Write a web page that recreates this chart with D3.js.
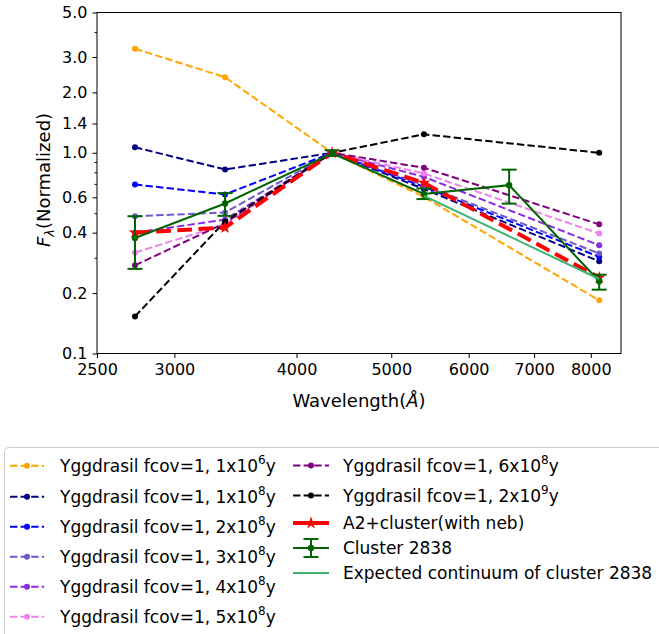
<!DOCTYPE html>
<html><head><meta charset="utf-8">
<script src="https://cdn.jsdelivr.net/npm/d3@7"></script>
<style>body{margin:0;background:#fff;} svg{display:block;font-family:"DejaVu Sans",sans-serif;}</style>
</head><body>
<svg id="c" width="659" height="634"></svg>
<script>
// ---- data ----
const modelWavelengths = [2734, 3380, 4350, 5400, 8160];
const yg1e6 = [3.30, 2.38, 1.0, 0.603, 0.184];
const yg1e8 = [1.065, 0.826, 1.0, 0.66, 0.288];
const yg2e8 = [0.695, 0.62, 1.0, 0.677, 0.303];
const yg3e8 = [0.483, 0.504, 1.0, 0.69, 0.315];
const yg4e8 = [0.40, 0.464, 1.0, 0.759, 0.346];
const yg5e8 = [0.318, 0.44, 1.0, 0.789, 0.396];
const yg6e8 = [0.275, 0.447, 1.0, 0.842, 0.44];
const yg2e9 = [0.153, 0.455, 1.0, 1.236, 1.0];
const a2cluster = [0.40, 0.424, 1.0, 0.708, 0.239];

const clusterWavelengths = [2734, 3380, 4350, 5400, 6600, 8160];
const clusterFlux = [0.376, 0.559, 0.995, 0.624, 0.69, 0.229];
const clusterLow = [0.264, 0.485, 0.965, 0.588, 0.558, 0.208];
const clusterHigh = [0.483, 0.63, 1.03, 0.664, 0.824, 0.247];

const expectedWavelengths = [5400, 8160];
const expectedFlux = [0.61, 0.235];

const xTicks = [2500, 3000, 4000, 5000, 6000, 7000, 8000];
const yTicks = [0.1, 0.2, 0.4, 0.6, 1.0, 1.4, 2.0, 3.0, 5.0];
const yMinorTicks = [0.3, 0.5, 0.7, 0.8, 0.9, 4.0];

const modelSeries = [
  {vals: yg1e6, color: "#FFA500", mant: "1", exp: "6"},
  {vals: yg1e8, color: "#000080", mant: "1", exp: "8"},
  {vals: yg2e8, color: "#0000FF", mant: "2", exp: "8"},
  {vals: yg3e8, color: "#6A5ACD", mant: "3", exp: "8"},
  {vals: yg4e8, color: "#8A2BE2", mant: "4", exp: "8"},
  {vals: yg5e8, color: "#EE82EE", mant: "5", exp: "8"},
  {vals: yg6e8, color: "#800080", mant: "6", exp: "8"},
  {vals: yg2e9, color: "#000000", mant: "2", exp: "9"}
];

// ---- layout ----
const L = 97, R = 621, T = 12.5, B = 353.5;
const svg = d3.select("#c");
const x = d3.scaleLog().domain([2500, 8590]).range([L, R]);
const y = d3.scaleLog().domain([0.1, 5.0]).range([B, T]);

const line = d3.line().x(d => x(d[0])).y(d => y(d[1]));

// axes
const xAxis = d3.axisBottom(x).tickValues(xTicks).tickFormat(d3.format("d")).tickSize(4.5).tickPadding(6);
const gx = svg.append("g").attr("transform", `translate(0,${B})`).call(xAxis);
const yAxis = d3.axisLeft(y).tickValues(yTicks).tickFormat(d3.format(".1f")).tickSize(4.5).tickPadding(5);
const gy = svg.append("g").attr("transform", `translate(${L},0)`).call(yAxis);
const gym = svg.append("g").attr("transform", `translate(${L},0)`)
  .call(d3.axisLeft(y).tickValues(yMinorTicks).tickFormat("").tickSize(2.5));
gym.select(".domain").remove();
[gx, gy, gym].forEach(g => {
  g.selectAll("text").attr("font-size", 16).attr("font-family", "DejaVu Sans").attr("fill", "#000");
  g.selectAll("line").attr("stroke", "#000").attr("stroke-width", 1);
  g.select(".domain").remove();
});

// plot frame
svg.append("rect").attr("x", L).attr("y", T).attr("width", R - L).attr("height", B - T)
  .attr("fill", "none").attr("stroke", "#000").attr("stroke-width", 1);

const plot = svg.append("g");

// model lines
modelSeries.forEach(s => {
  const pts = modelWavelengths.map((w, i) => [w, s.vals[i]]);
  plot.append("path").attr("d", line(pts)).attr("fill", "none")
    .attr("stroke", s.color).attr("stroke-width", 2).attr("stroke-dasharray", "7.4,3.2");
  plot.selectAll(null).data(pts).enter().append("circle")
    .attr("cx", d => x(d[0])).attr("cy", d => y(d[1])).attr("r", 3).attr("fill", s.color);
});

// A2 + cluster
const redPts = modelWavelengths.map((w, i) => [w, a2cluster[i]]);
plot.append("path").attr("d", line(redPts)).attr("fill", "none")
  .attr("stroke", "#FF0000").attr("stroke-width", 4).attr("stroke-dasharray", "14.8,6.4");
const star = d3.symbol().type(d3.symbolStar).size(50);
plot.selectAll(null).data(redPts).enter().append("path").attr("d", star)
  .attr("transform", d => `translate(${x(d[0])},${y(d[1])})`).attr("fill", "#FF0000");

// Cluster 2838
const dg = "#006400";
const gPts = clusterWavelengths.map((w, i) => [w, clusterFlux[i], clusterLow[i], clusterHigh[i]]);
plot.append("path").attr("d", line(gPts)).attr("fill", "none").attr("stroke", dg).attr("stroke-width", 2);
gPts.forEach(d => {
  const cx = x(d[0]);
  plot.append("line").attr("x1", cx).attr("x2", cx).attr("y1", y(d[2])).attr("y2", y(d[3])).attr("stroke", dg).attr("stroke-width", 2);
  [d[2], d[3]].forEach(v => plot.append("line").attr("x1", cx - 7.5).attr("x2", cx + 7.5)
    .attr("y1", y(v)).attr("y2", y(v)).attr("stroke", dg).attr("stroke-width", 2));
  plot.append("circle").attr("cx", cx).attr("cy", y(d[1])).attr("r", 3.2).attr("fill", dg);
});

// Expected continuum
const ePts = expectedWavelengths.map((w, i) => [w, expectedFlux[i]]);
plot.append("path").attr("d", line(ePts)).attr("fill", "none").attr("stroke", "#3CB371").attr("stroke-width", 2);

// axis labels
svg.append("text").attr("x", (L + R) / 2).attr("y", 407).attr("text-anchor", "middle")
  .attr("font-size", 18).attr("fill", "#000")
  .call(t => { t.append("tspan").text("Wavelength("); t.append("tspan").attr("font-style", "italic").text("Å"); t.append("tspan").text(")"); });
svg.append("text").attr("transform", `translate(50,${(T + B) / 2 - 3}) rotate(-90)`).attr("text-anchor", "middle")
  .attr("font-size", 18).attr("fill", "#000")
  .call(t => {
    t.append("tspan").attr("font-style", "italic").text("F");
    t.append("tspan").attr("font-style", "italic").attr("font-size", 13).attr("dy", 4).text("λ");
    t.append("tspan").attr("dy", -4).text("(Normalized)");
  });

// legend
const leg = svg.append("g");
leg.append("rect").attr("x", 4.5).attr("y", 447.5).attr("width", 700).attr("height", 300).attr("rx", 4)
  .attr("fill", "#fff").attr("stroke", "#cccccc").attr("stroke-width", 1);

const FS = 17;
function superLabel(g, tx, ty, mant, exp) {
  const t = g.append("text").attr("x", tx).attr("y", ty).attr("font-size", FS).attr("fill", "#000");
  t.append("tspan").text(`Yggdrasil fcov=1, ${mant}x10`);
  t.append("tspan").attr("font-size", 12).attr("dy", -7.5).text(exp);
  t.append("tspan").attr("dy", 7.5).text("y");
}
function dashHandle(g, x0, x1, cy, color) {
  g.append("line").attr("x1", x0).attr("x2", x1).attr("y1", cy).attr("y2", cy)
    .attr("stroke", color).attr("stroke-width", 2).attr("stroke-dasharray", "7.4,3.2");
  g.append("circle").attr("cx", (x0 + x1) / 2).attr("cy", cy).attr("r", 3).attr("fill", color);
}
const col1Rows = [465.7, 496.7, 526.7, 556.7, 586.7, 616.7];
modelSeries.slice(0, 6).forEach((s, i) => {
  dashHandle(leg, 10, 44, col1Rows[i], s.color);
  superLabel(leg, 60, col1Rows[i] + 6, s.mant, s.exp);
});
const col2Rows = [465.5, 495.5, 523, 548, 573];
modelSeries.slice(6).forEach((s, i) => {
  dashHandle(leg, 293, 329, col2Rows[i], s.color);
  superLabel(leg, 343, col2Rows[i] + 6, s.mant, s.exp);
});
// red
leg.append("line").attr("x1", 293).attr("x2", 329).attr("y1", col2Rows[2]).attr("y2", col2Rows[2]).attr("stroke", "#FF0000").attr("stroke-width", 4);
leg.append("path").attr("d", star).attr("transform", `translate(311,${col2Rows[2]})`).attr("fill", "#FF0000");
leg.append("text").attr("x", 343).attr("y", col2Rows[2] + 6).attr("font-size", FS).attr("fill", "#000").text("A2+cluster(with neb)");
// green
const gy0 = col2Rows[3];
leg.append("line").attr("x1", 293).attr("x2", 329).attr("y1", gy0).attr("y2", gy0).attr("stroke", dg).attr("stroke-width", 2);
leg.append("line").attr("x1", 311).attr("x2", 311).attr("y1", gy0 - 9).attr("y2", gy0 + 9).attr("stroke", dg).attr("stroke-width", 2);
[gy0 - 9, gy0 + 9].forEach(v => leg.append("line").attr("x1", 303.5).attr("x2", 318.5).attr("y1", v).attr("y2", v).attr("stroke", dg).attr("stroke-width", 2));
leg.append("circle").attr("cx", 311).attr("cy", gy0).attr("r", 3.2).attr("fill", dg);
leg.append("text").attr("x", 343).attr("y", gy0 + 6).attr("font-size", FS).attr("fill", "#000").text("Cluster 2838");
// expected
leg.append("line").attr("x1", 293).attr("x2", 329).attr("y1", col2Rows[4]).attr("y2", col2Rows[4]).attr("stroke", "#3CB371").attr("stroke-width", 2);
leg.append("text").attr("x", 343).attr("y", col2Rows[4] + 6).attr("font-size", FS).attr("fill", "#000").text("Expected continuum of cluster 2838");
</script>
</body></html>
